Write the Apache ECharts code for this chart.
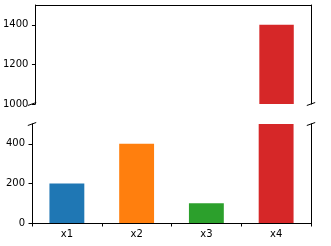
<!DOCTYPE html>
<html>
<head>
<meta charset="utf-8">
<script src="https://cdn.jsdelivr.net/npm/echarts@6/dist/echarts.min.js"></script>
<style>html,body{margin:0;padding:0;background:#fff}#c{width:331px;height:246px}</style>
</head>
<body>
<div id="c"></div>
<script>
const categories = ['x1', 'x2', 'x3', 'x4'];
const values = [200, 400, 100, 1400];
const barColors = ['#1f77b4', '#ff7f0e', '#2ca02c', '#d62728'];
const topRange = [1000, 1500];
const bottomRange = [0, 500];
const topTicks = [1000, 1200, 1400];
const bottomTicks = [0, 200, 400];

const L = 32, R = 311, T1 = 5, B1 = 104, T2 = 124, B2 = 223;
const font = { fontFamily: 'DejaVu Sans', fontSize: 10, color: '#000' };
const line = { show: true, lineStyle: { color: '#000', width: 1 } };

const chart = echarts.init(document.getElementById('c'), null, { renderer: 'canvas' });

function yAxes(gridIndex, range, ticks) {
  return [
    {
      type: 'value', gridIndex, position: 'left', min: range[0], max: range[1],
      axisLine: line, splitLine: { show: false },
      axisTick: { show: true, length: 3.5, customValues: ticks, lineStyle: { color: '#000' } },
      axisLabel: Object.assign({ margin: 7, customValues: ticks, formatter: v => String(v) }, font)
    },
    {
      type: 'value', gridIndex, position: 'right', min: range[0], max: range[1],
      axisLine: line, splitLine: { show: false },
      axisTick: { show: false }, axisLabel: { show: false }
    }
  ];
}

const data = values.map((v, i) => ({ value: v, itemStyle: { color: barColors[i] } }));

chart.setOption({
  animation: false,
  backgroundColor: '#fff',
  grid: [
    { left: L, top: T1, width: R - L, height: B1 - T1 },
    { left: L, top: T2, width: R - L, height: B2 - T2 }
  ],
  xAxis: [
    { type: 'category', gridIndex: 0, data: categories, axisLine: { show: false }, axisTick: { show: false }, axisLabel: { show: false } },
    { type: 'category', gridIndex: 0, position: 'top', data: categories, axisLine: line, axisTick: { show: false }, axisLabel: { show: false } },
    {
      type: 'category', gridIndex: 1, data: categories, axisLine: line,
      axisTick: { show: true, length: 3.5, lineStyle: { color: '#000' } },
      axisLabel: Object.assign({ margin: 6 }, font)
    }
  ],
  yAxis: yAxes(0, topRange, topTicks).concat(yAxes(1, bottomRange, bottomTicks)),
  series: [
    { type: 'bar', xAxisIndex: 0, yAxisIndex: 0, data, barWidth: '50%', clip: true },
    { type: 'bar', xAxisIndex: 2, yAxisIndex: 2, data, barWidth: '50%', clip: true }
  ],
  graphic: [[L, B1], [R, B1], [L, T2], [R, T2]].map(p => ({
    type: 'line',
    shape: { x1: p[0] - 4.2, y1: p[1] + 1.5, x2: p[0] + 4.2, y2: p[1] - 1.5 },
    style: { stroke: '#000', lineWidth: 1 }
  }))
});
</script>
</body>
</html>
